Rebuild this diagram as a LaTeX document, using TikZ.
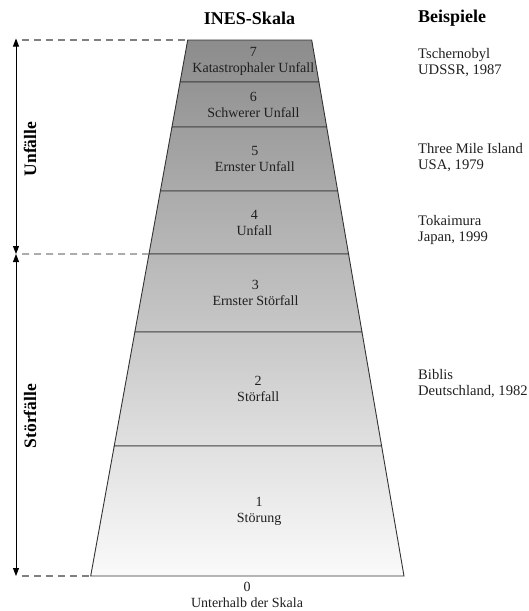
\documentclass[tikz,border=0pt]{standalone}
\usepackage{fontspec}
\setmainfont{Liberation Serif}
\usetikzlibrary{calc,arrows.meta}
\begin{document}
\begin{tikzpicture}[x=1pt,y=-1pt,
  bandtext/.style={align=center,inner sep=0pt,font=\fontsize{14}{16}\selectfont,text=black!88},
  extext/.style={align=left,anchor=west,inner sep=0pt,font=\fontsize{14.6}{16}\selectfont,text=black!88},
  heading/.style={inner sep=0pt,font=\fontsize{18}{20}\selectfont\bfseries},
  sidelabel/.style={rotate=90,inner sep=0pt,font=\fontsize{17.5}{20}\selectfont\bfseries},
  dashline/.style={draw=black!50,line width=1.1pt,dash pattern=on 7pt off 5pt},
  scalearrow/.style={line width=0.9pt,{Triangle[width=6pt,length=8pt]}-{Triangle[width=6pt,length=8pt]}},
  bandline/.style={draw=black!80,line width=0.9pt}]
\useasboundingbox (0,0) rectangle (529,611);
\coordinate (TL) at (187.7,40);
\coordinate (TR) at (311.7,40);
\coordinate (BL) at (90.7,576);
\coordinate (BR) at (404,576);
\foreach \ta/\tb/\ca/\cb/\n/\txt/\nm in {
  0/0.0784/45/42/7/Katastrophaler Unfall/b7,
  0.0784/0.1623/42/38/6/Schwerer Unfall/b6,
  0.1623/0.2817/38/33/5/Ernster Unfall/b5,
  0.2817/0.3993/33/28/4/Unfall/b4,
  0.3993/0.5448/28/22/3/Ernster Störfall/b3,
  0.5448/0.7575/22/12/2/Störfall/b2,
  0.7575/1/12/2/1/Störung/b1}{
  \coordinate (\nm a) at ($(TL)!\ta!(BL)$);
  \coordinate (\nm b) at ($(TR)!\ta!(BR)$);
  \coordinate (\nm c) at ($(TR)!\tb!(BR)$);
  \coordinate (\nm d) at ($(TL)!\tb!(BL)$);
  \shade[top color=black!\ca,bottom color=black!\cb] (\nm a) -- (\nm b) -- (\nm c) -- (\nm d) -- cycle;
  \draw[bandline] (\nm a) -- (\nm b) -- (\nm c) -- (\nm d) -- cycle;
  \node[bandtext] (\nm) at ($(\nm a)!0.5!(\nm c)$) {\n\\\txt};
}
\node[bandtext] (b0) at (247,595) {0\\Unterhalb der Skala};
% headings
\node[heading] (h1) at (249.5,18) {INES-Skala};
\node[heading,anchor=west] (h2) at (418,18) {Beispiele};
% examples
\node[extext] (e7) at (418,63) {Tschernobyl\\UDSSR, 1987};
\node[extext] (e5) at (418,157.5) {Three Mile Island\\USA, 1979};
\node[extext] (e4) at (418,230) {Tokaimura\\Japan, 1999};
\node[extext] (e2) at (418,383.5) {Biblis\\Deutschland, 1982};
% side scale
\coordinate (A1) at (16,38.5);
\coordinate (A2) at (16,254);
\coordinate (A3) at (16,576);
\coordinate (D1) at (22,40);
\coordinate (D2) at (22,254);
\coordinate (D3) at (22,576);
\draw[scalearrow] (A1) -- (A2);
\draw[scalearrow] (A2) -- (A3);
\draw[dashline] (D1) -- (b7a);
\draw[dashline] (D2) -- (b3a);
\draw[dashline] (D3) -- (b1d);
\node[sidelabel] (u) at (30,149) {Unfälle};
\node[sidelabel] (s) at (30,416) {Störfälle};
\end{tikzpicture}
\end{document}
